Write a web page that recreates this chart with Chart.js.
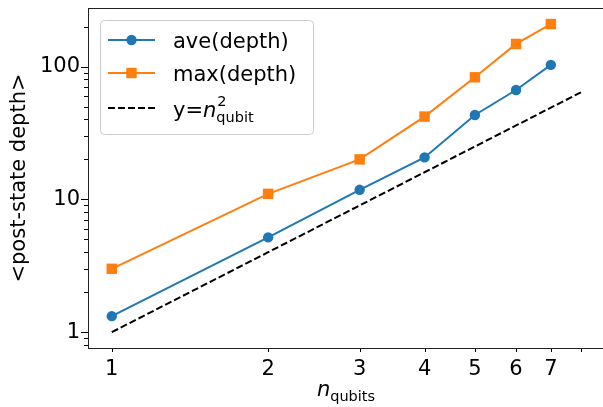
<!DOCTYPE html>
<html>
<head>
<meta charset="utf-8">
<script src="https://cdn.jsdelivr.net/npm/chart.js@4/dist/chart.umd.min.js"></script>
<style>
    html, body { margin: 0; padding: 0; background: #fff; overflow: hidden; }
    canvas { display: block; }
</style>
</head>
<body>
<canvas id="chart" width="604" height="407"></canvas>
<script>
// ========== 数据 ==========
const nQubits = [1, 2, 3, 4, 5, 6, 7];
const aveDepth = [1.32, 5.17, 11.8, 20.7, 43.2, 66.6, 103];
const maxDepth = [3, 11, 20, 42, 83, 148, 209];
const refX = [1, 2, 3, 4, 5, 6, 7, 8];
const refY = [1, 4, 9, 16, 25, 36, 49, 64];

const xTicks = [1, 2, 3, 4, 5, 6, 7, 8];
const xTickLabels = ['1', '2', '3', '4', '5', '6', '7', ''];
const yTicks = [1, 10, 100];
const yTickLabels = ['1', '10', '100'];
const yMinorTicks = [0.8, 0.9, 2, 3, 4, 5, 6, 7, 8, 9, 20, 30, 40, 50, 60, 70, 80, 90, 200];

const BLUE = '#1f77b4';
const ORANGE = '#ff7f0e';
const FONT = 'DejaVu Sans';

// 去掉 Chart.js 为首尾刻度标签预留的边距
function noPad(s) {
    s.paddingTop = 0;
    s.paddingBottom = 0;
    s.paddingLeft = 0;
    s.paddingRight = 0;
}

// ========== 边框、刻度、图例、标题 ==========
const decorPlugin = {
    id: 'decor',
    afterDraw(chart) {
        const ctx = chart.ctx;
        const a = chart.chartArea;
        const xs = chart.scales.x, ys = chart.scales.y;
        ctx.save();

        // 刻度线
        ctx.strokeStyle = '#000';
        ctx.lineWidth = 1;
        ctx.beginPath();
        xTicks.forEach(v => {
            const px = Math.round(xs.getPixelForValue(v)) + 0.5;
            ctx.moveTo(px, a.bottom);
            ctx.lineTo(px, a.bottom + 4);
        });
        yTicks.forEach(v => {
            const py = Math.round(ys.getPixelForValue(v)) + 0.5;
            ctx.moveTo(a.left, py);
            ctx.lineTo(a.left - 7, py);
        });
        yMinorTicks.forEach(v => {
            const py = Math.round(ys.getPixelForValue(v)) + 0.5;
            ctx.moveTo(a.left, py);
            ctx.lineTo(a.left - 4, py);
        });
        ctx.stroke();

        // 边框
        ctx.strokeStyle = '#222';
        ctx.strokeRect(a.left + 0.5, a.top + 0.5, a.right - a.left, a.bottom - a.top);

        // 图例
        const lx = 100.5, ly = 20.5, lw = 213, lh = 114;
        ctx.beginPath();
        ctx.roundRect(lx, ly, lw, lh, 4);
        ctx.fillStyle = 'rgba(255,255,255,0.8)';
        ctx.fill();
        ctx.strokeStyle = '#cccccc';
        ctx.stroke();

        ctx.lineWidth = 2;
        ctx.strokeStyle = BLUE;
        ctx.beginPath(); ctx.moveTo(108, 40); ctx.lineTo(155, 40); ctx.stroke();
        ctx.fillStyle = BLUE;
        ctx.beginPath(); ctx.arc(131.5, 40, 5.2, 0, Math.PI * 2); ctx.fill();

        ctx.strokeStyle = ORANGE;
        ctx.beginPath(); ctx.moveTo(108, 73); ctx.lineTo(155, 73); ctx.stroke();
        ctx.fillStyle = ORANGE;
        ctx.fillRect(131.5 - 5.2, 73 - 5.2, 10.4, 10.4);

        ctx.strokeStyle = '#000';
        ctx.setLineDash([7, 3]);
        ctx.beginPath(); ctx.moveTo(108, 108); ctx.lineTo(155, 108); ctx.stroke();
        ctx.setLineDash([]);

        ctx.fillStyle = '#000';
        ctx.textAlign = 'left';
        ctx.textBaseline = 'alphabetic';
        ctx.font = `21px "${FONT}"`;
        ctx.fillText('ave(depth)', 173, 47.5);
        ctx.fillText('max(depth)', 173, 80.5);
        ctx.fillText('y=', 173, 117);
        let tx = 173 + ctx.measureText('y=').width;
        ctx.font = `italic 21px "${FONT}"`;
        ctx.fillText('n', tx, 117);
        tx += ctx.measureText('n').width;
        ctx.font = `14.5px "${FONT}"`;
        ctx.fillText('2', tx + 1, 105.5);
        ctx.fillText('qubit', tx, 122);

        // x 轴标题
        ctx.font = `italic 21px "${FONT}"`;
        const nW = ctx.measureText('n').width;
        ctx.font = `14.5px "${FONT}"`;
        const qW = ctx.measureText('qubits').width;
        const cx = (a.left + a.right) / 2;
        let sx = cx - (nW + qW) / 2;
        ctx.font = `italic 21px "${FONT}"`;
        ctx.fillText('n', sx, 396);
        ctx.font = `14.5px "${FONT}"`;
        ctx.fillText('qubits', sx + nW, 401);

        // y 轴标题
        ctx.font = `21px "${FONT}"`;
        ctx.translate(20, (a.top + a.bottom) / 2);
        ctx.rotate(-Math.PI / 2);
        ctx.textAlign = 'center';
        ctx.textBaseline = 'middle';
        ctx.fillText('<post-state depth>', 0, 0);

        ctx.restore();
    }
};

// ========== 图表 ==========
const ctx = document.getElementById('chart').getContext('2d');
new Chart(ctx, {
    type: 'line',
    data: {
        datasets: [
            {
                label: 'ave(depth)',
                data: nQubits.map((x, i) => ({ x, y: aveDepth[i] })),
                borderColor: BLUE,
                backgroundColor: BLUE,
                borderWidth: 2,
                pointStyle: 'circle',
                pointRadius: 5.2,
                pointBorderWidth: 0,
                tension: 0
            },
            {
                label: 'max(depth)',
                data: nQubits.map((x, i) => ({ x, y: maxDepth[i] })),
                borderColor: ORANGE,
                backgroundColor: ORANGE,
                borderWidth: 2,
                pointStyle: 'rect',
                pointRadius: 7.4,
                pointBorderWidth: 0,
                tension: 0
            },
            {
                label: 'y=n²',
                data: refX.map((x, i) => ({ x, y: refY[i] })),
                borderColor: '#000',
                borderWidth: 2,
                borderDash: [7, 3],
                pointRadius: 0,
                tension: 0
            }
        ]
    },
    options: {
        responsive: false,
        animation: false,
        devicePixelRatio: 1,
        events: [],
        layout: { autoPadding: false, padding: { top: 8, right: 0, left: 0, bottom: 0 } },
        plugins: {
            legend: { display: false },
            tooltip: { enabled: false }
        },
        scales: {
            x: {
                type: 'logarithmic',
                min: 0.9,
                max: 8.86,
                grid: { display: false, drawTicks: false },
                border: { display: false },
                afterBuildTicks: s => { s.ticks = xTicks.map(v => ({ value: v })); },
                afterFit: s => { s.height = 59; noPad(s); },
                ticks: {
                    autoSkip: false,
                    maxRotation: 0,
                    padding: 9,
                    color: '#000',
                    font: { family: FONT, size: 21 },
                    callback: v => xTickLabels[xTicks.indexOf(v)]
                }
            },
            y: {
                type: 'logarithmic',
                min: 0.76,
                max: 276,
                grid: { display: false, drawTicks: false },
                border: { display: false },
                afterBuildTicks: s => { s.ticks = yTicks.map(v => ({ value: v })); },
                afterFit: s => { s.width = 88; noPad(s); },
                ticks: {
                    autoSkip: false,
                    padding: 8,
                    color: '#000',
                    font: { family: FONT, size: 21 },
                    callback: v => yTickLabels[yTicks.indexOf(v)]
                }
            }
        }
    },
    plugins: [decorPlugin]
});
</script>
</body>
</html>
